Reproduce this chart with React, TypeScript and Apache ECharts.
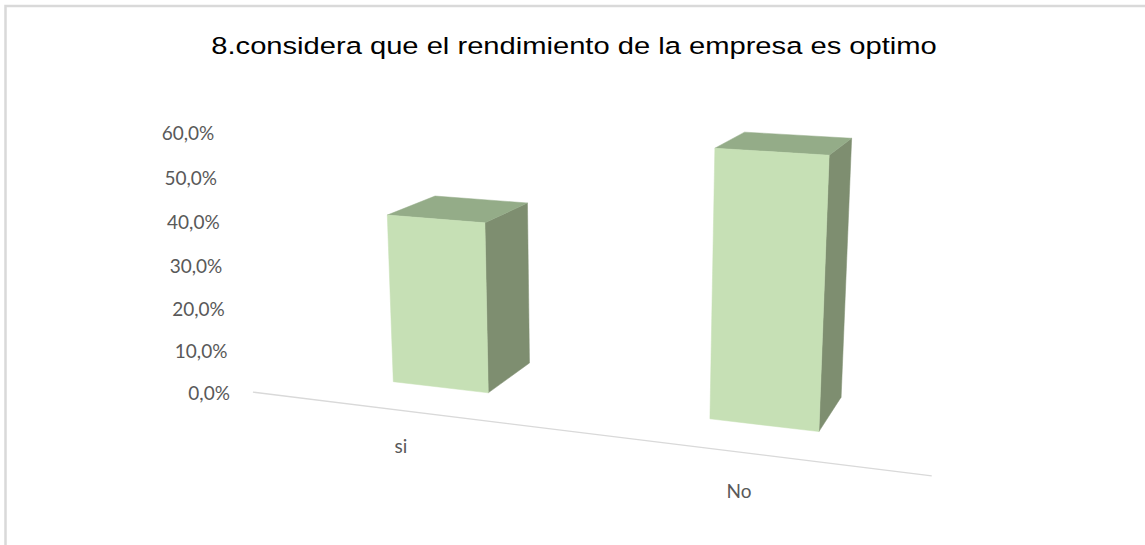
import React, { useEffect, useRef } from "react";
import * as echarts from "echarts";

const categories = ["si", "No"];
const values = [40, 60];
const yTicks = [0, 10, 20, 30, 40, 50, 60];
const titleText = "8.considera que el rendimiento de la empresa es optimo";

// perspective camera (vanishing points + origin), style constants
const VX = [-4100, -145];
const VY = [604, 6226];
const VZ = [1156, -91];
const O = [393.3, 381.7];
const A = -0.000207;
const B = -0.0001612;
const C = 0.000644;
const BAR_RATIO = 100 / 318;
const DEPTH = 100;
const FRONT_GAP = 72.5;

function proj(X: number, Y: number, Z: number): [number, number, number] {
  const w = A * X + B * Y + C * Z + 1;
  const x = (A * X * VX[0] + B * Y * VY[0] + C * Z * VZ[0] + O[0]) / w;
  const y = (A * X * VX[1] + B * Y * VY[1] + C * Z * VZ[1] + O[1]) / w;
  return [x, y, w];
}

function frame(api: any) {
  const band = api.size([1, 0])[0];
  const barW = band * BAR_RATIO;
  const x0 = api.coord([0, 0])[0] - barW / 2;
  const y0 = api.coord([0, 0])[1];
  return { band, barW, x0, y0 };
}

const fmt = (t: number) => `${t.toFixed(1).replace(".", ",")}%`;

export default function App() {
  const ref = useRef<HTMLDivElement>(null);
  useEffect(() => {
    const chart = echarts.init(ref.current!, null, { renderer: "svg" });
    const option: any = {
      animation: false,
      backgroundColor: "#ffffff",
      graphic: [
        {
          type: "rect",
          shape: { x: 5.5, y: 6, width: 1300, height: 700 },
          style: { fill: "none", stroke: "#D9D9D9", lineWidth: 2.5 },
          silent: true,
        },
        {
          type: "text",
          x: 574,
          y: 45.5,
          scaleX: 1.19,
          style: {
            text: titleText,
            align: "center",
            verticalAlign: "middle",
            fill: "#000000",
            fontSize: 24.5,
            fontFamily: "'Liberation Sans', Arial, sans-serif",
          },
        },
      ],
      grid: { left: 0, top: 0, width: 636, height: 258 },
      xAxis: { type: "category", data: categories, show: false },
      yAxis: { type: "value", min: 0, max: 60, interval: 10, show: false },
      series: [
        {
          type: "custom",
          clip: false,
          data: [[0, 0]],
          renderItem: (params: any, api: any) => {
            const f = frame(api);
            const xl = api.coord([0, 0])[0] - f.band / 2 - f.x0;
            const xr = xl + f.band * categories.length;
            const p1 = proj(xl, 0, -FRONT_GAP);
            const p2 = proj(xr, 0, -FRONT_GAP);
            return {
              type: "line",
              shape: { x1: p1[0], y1: p1[1], x2: p2[0], y2: p2[1] },
              style: { stroke: "#D9D9D9", lineWidth: 1.3 },
            };
          },
        },
        {
          type: "custom",
          clip: false,
          data: yTicks.map((t) => [0, t]),
          renderItem: (params: any, api: any) => {
            const f = frame(api);
            const t = api.value(1);
            const xl = api.coord([0, 0])[0] - f.band / 2 - f.x0;
            const h = f.y0 - api.coord([0, t])[1];
            const p = proj(xl, h, -FRONT_GAP);
            return {
              type: "text",
              x: p[0] - 23,
              y: p[1],
              style: {
                text: fmt(t),
                align: "right",
                verticalAlign: "middle",
                fill: "#595959",
                fontSize: 19,
                fontFamily: "Lato, 'Open Sans', sans-serif",
              },
            };
          },
        },
        {
          type: "custom",
          clip: false,
          data: categories.map((c, i) => [i, 0]),
          renderItem: (params: any, api: any) => {
            const f = frame(api);
            const i = api.value(0);
            const cx = api.coord([i, 0])[0] - f.x0;
            const p = proj(cx, 0, -FRONT_GAP);
            return {
              type: "text",
              x: p[0] - 4,
              y: p[1] + 33 / p[2],
              style: {
                text: categories[i],
                align: "center",
                verticalAlign: "middle",
                fill: "#595959",
                fontSize: 19,
                fontFamily: "Lato, 'Open Sans', sans-serif",
              },
            };
          },
        },
        {
          type: "custom",
          clip: false,
          data: values.map((v, i) => [i, v]),
          renderItem: (params: any, api: any) => {
            const f = frame(api);
            const i = api.value(0);
            const v = api.value(1);
            const cx = api.coord([i, 0])[0] - f.x0;
            const X0 = cx - f.barW / 2;
            const X1 = cx + f.barW / 2;
            const H = f.y0 - api.coord([i, v])[1];
            const D = DEPTH;
            const pt = (X: number, Y: number, Z: number) => {
              const p = proj(X, Y, Z);
              return [p[0], p[1]];
            };
            const side = [pt(X1, 0, 0), pt(X1, 0, D), pt(X1, H, D), pt(X1, H, 0)];
            const top = [pt(X0, H, 0), pt(X1, H, 0), pt(X1, H, D), pt(X0, H, D)];
            const front = [pt(X0, 0, 0), pt(X1, 0, 0), pt(X1, H, 0), pt(X0, H, 0)];
            return {
              type: "group",
              children: [
                { type: "polygon", shape: { points: side }, style: { fill: "#7E8E70", stroke: "#7E8E70", lineWidth: 0.5 } },
                { type: "polygon", shape: { points: top }, style: { fill: "#94AC88", stroke: "#94AC88", lineWidth: 0.5 } },
                { type: "polygon", shape: { points: front }, style: { fill: "#C6E0B5", stroke: "#C6E0B5", lineWidth: 0.5 } },
              ],
            };
          },
        },
      ],
    };
    chart.setOption(option);
    return () => chart.dispose();
  }, []);
  return (
    <div
      ref={ref}
      style={{ position: "fixed", left: 0, top: 0, width: 1145, height: 545 }}
    />
  );
}
